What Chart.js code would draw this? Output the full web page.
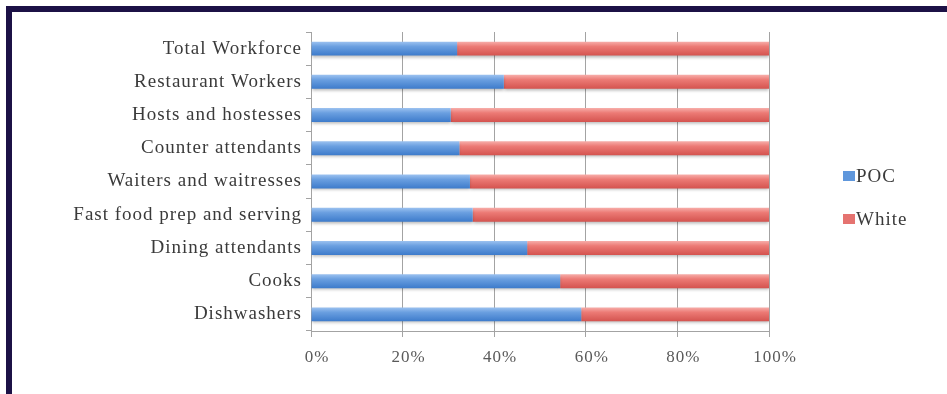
<!DOCTYPE html>
<html>
<head>
<meta charset="utf-8">
<script src="https://cdn.jsdelivr.net/npm/chart.js@4"></script>
<style>
  html, body { margin:0; padding:0; background:#fff; }
  #wrap { position:relative; width:947px; height:394px; overflow:hidden; }
  #frame { position:absolute; left:6px; top:6px; right:0; bottom:0;
           border-top:6px solid #1c1146; border-left:6px solid #1c1146; pointer-events:none; }
  canvas { position:absolute; left:0; top:0; }
</style>
</head>
<body>
<div id="wrap">
  <canvas id="chart" width="947" height="394"></canvas>
  <div id="frame"></div>
</div>
<script>
// valores (porcentaje)
const categories = ['Total Workforce','Restaurant Workers','Hosts and hostesses','Counter attendants',
  'Waiters and waitresses','Fast food prep and serving','Dining attendants','Cooks','Dishwashers'];
const pocValues   = [31.9, 42.1, 30.5, 32.4, 34.7, 35.3, 47.2, 54.4, 59.0];
const whiteValues = [68.1, 57.9, 69.5, 67.6, 65.3, 64.7, 52.8, 45.6, 41.0];
const xTicks = [0, 20, 40, 60, 80, 100];

const SERIF = '"Liberation Serif", "Times New Roman", serif';

// degradado vertical por barra, como en el original de Excel
function barFill(light, mid, dark, flat){
  return function(ctx){
    const chart = ctx.chart;
    const ys = chart.scales.y;
    if (!chart.chartArea || !ys || ctx.dataIndex === undefined) return flat;
    const c = ys.getPixelForValue(ctx.dataIndex);
    const g = chart.ctx.createLinearGradient(0, c - 7, 0, c + 7);
    g.addColorStop(0, light);
    g.addColorStop(0.35, mid);
    g.addColorStop(1, dark);
    return g;
  };
}

const shadowPlugin = {
  id:'shadow',
  beforeDatasetsDraw(chart){
    const c = chart.ctx;
    c.save();
    c.shadowColor = 'rgba(0,0,0,0.28)';
    c.shadowBlur = 3;
    c.shadowOffsetY = 2;
  },
  afterDatasetsDraw(chart){ chart.ctx.restore(); }
};

const spacingPlugin = {
  id:'spacing',
  beforeDraw(chart){ chart.ctx.letterSpacing = '1px'; }
};

const legendPlugin = {
  id:'sideLegend',
  afterDraw(chart){
    const c = chart.ctx;
    const rows = [176, 219];
    c.save();
    c.font = '19px ' + SERIF;
    c.textBaseline = 'middle';
    c.textAlign = 'left';
    chart.data.datasets.forEach((ds, i) => {
      const y = rows[i];
      c.fillStyle = ds.legendColor;
      c.fillRect(843, y - 5, 12, 10);
      c.fillStyle = '#3a3a3a';
      c.fillText(ds.label, 856, y + 1);
    });
    c.restore();
  }
};

new Chart(document.getElementById('chart').getContext('2d'), {
  type:'bar',
  data:{
    labels: categories,
    datasets:[
      { label:'POC', data: pocValues, legendColor:'#5f97dc',
        backgroundColor: barFill('#9cc2f0', '#6a9fe0', '#3d7bcb', '#5f97dc'),
        borderWidth:0, categoryPercentage:0.42, barPercentage:1 },
      { label:'White', data: whiteValues, legendColor:'#e57370',
        backgroundColor: barFill('#f7aeaa', '#ec7a75', '#d4534f', '#e57370'),
        borderWidth:0, categoryPercentage:0.42, barPercentage:1 }
    ]
  },
  options:{
    indexAxis:'y',
    responsive:false,
    animation:false,
    layout:{ padding:{ left:0, right:178, top:32, bottom:0 } },
    plugins:{ legend:{ display:false }, tooltip:{ enabled:false } },
    scales:{
      x:{
        stacked:true, min:0, max:100,
        afterBuildTicks(scale){ scale.ticks = xTicks.map(v => ({ value:v })); },
        afterFit(scale){ scale.height = 63; },
        grid:{ color:'#a3a3a3', lineWidth:1, tickLength:6, drawTicks:true },
        border:{ display:true, color:'#a3a3a3' },
        ticks:{ callback: v => v + '%', padding:10, labelOffset:6, maxRotation:0,
                color:'#5a5a5a', font:{ family:SERIF, size:17 } }
      },
      y:{
        stacked:true,
        afterFit(scale){ scale.width = 311; },
        grid:{ display:true, drawOnChartArea:false, drawTicks:true, tickLength:5, offset:true, color:'#a3a3a3' },
        border:{ display:true, color:'#a3a3a3' },
        ticks:{ padding:4, color:'#3a3a3a', font:{ family:SERIF, size:19 } }
      }
    }
  },
  plugins:[spacingPlugin, shadowPlugin, legendPlugin]
});
</script>
</body>
</html>
